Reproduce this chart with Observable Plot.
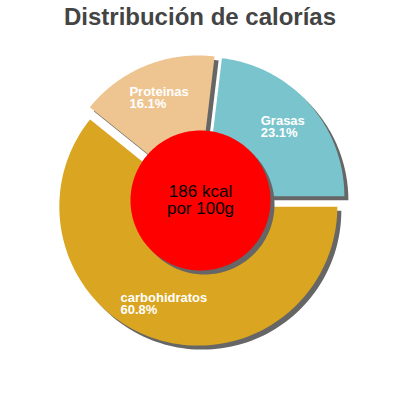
<!DOCTYPE html>
<html><head><meta charset="utf-8">
<script src="https://cdn.jsdelivr.net/npm/d3@7"></script>
<script src="https://cdn.jsdelivr.net/npm/@observablehq/plot@0.6"></script>
<style>
body{margin:0;background:#fff;font-family:"Liberation Sans",Arial,sans-serif}
#title{height:33px;line-height:34px;font-size:24px;font-weight:bold;color:#444;text-align:center;white-space:nowrap}
</style></head>
<body><div id="title"></div><div id="chart"></div>
<script>
// ---- data ----
const title = "Distribución de calorías";
const names = ["Grasas", "Proteinas", "carbohidratos"];
const percents = [23.1, 16.1, 60.8];
const colors = ["#7AC5CD", "#EEC591", "#DAA520"];
const centerLines = ["186 kcal", "por 100g"];

// ---- layout constants ----
const R = 139, EXPLODE = 6.5, INNER = 70, LABEL_R = 110, SHADOW = 4;
const LABEL_FONT = 13, FONT = '"Liberation Sans", Arial, sans-serif';

document.getElementById("title").textContent = title;

const total = d3.sum(percents);
const slicePts = [];
const labels = [];
const ctx = document.createElement("canvas").getContext("2d");
ctx.font = `bold ${LABEL_FONT}px ${FONT}`;
let a0 = 0;
names.forEach((name, i) => {
  const a1 = a0 + percents[i] / total * 2 * Math.PI;
  const mid = (a0 + a1) / 2;
  const cx = EXPLODE * Math.cos(mid), cy = EXPLODE * Math.sin(mid);
  slicePts.push({name, x: cx, y: cy});
  const N = 120;
  for (let k = 0; k <= N; k++) {
    const a = a0 + (a1 - a0) * k / N;
    slicePts.push({name, x: cx + R * Math.cos(a), y: cy + R * Math.sin(a)});
  }
  slicePts.push({name, x: cx, y: cy});
  const lines = [name, percents[i].toFixed(1) + "%"];
  const w = d3.max(lines, l => ctx.measureText(l).width);
  labels.push({x: LABEL_R * Math.cos(mid) - w / 2, y: LABEL_R * Math.sin(mid), text: lines.join("\n")});
  a0 = a1;
});
const circlePts = d3.range(0, 361).map(d => ({x: INNER * Math.cos(d * Math.PI / 180), y: INNER * Math.sin(d * Math.PI / 180)}));

const chart = Plot.plot({
  width: 400, height: 367, margin: 0,
  x: {domain: [-200, 200], axis: null},
  y: {domain: [-200, 167], axis: null},
  color: {domain: names, range: colors},
  style: {fontFamily: FONT, background: "white"},
  marks: [
    Plot.line(slicePts, {x: "x", y: "y", z: "name", fill: "#666", stroke: "none", dx: SHADOW, dy: SHADOW}),
    Plot.line(slicePts, {x: "x", y: "y", z: "name", fill: "name", stroke: "none"}),
    Plot.line(circlePts, {x: "x", y: "y", fill: "#666", stroke: "none", dx: SHADOW, dy: SHADOW}),
    Plot.line(circlePts, {x: "x", y: "y", fill: "#FF0000", stroke: "none"}),
    Plot.text(labels, {x: "x", y: "y", text: "text", textAnchor: "start", lineAnchor: "middle", fill: "white", fontSize: LABEL_FONT, fontWeight: "bold", lineHeight: 0.92}),
    Plot.text([{x: 0, y: 0, text: centerLines.join("\n")}], {x: "x", y: "y", text: "text", lineAnchor: "middle", fill: "black", fontSize: 17})
  ]
});
document.getElementById("chart").appendChild(chart);
</script></body></html>
